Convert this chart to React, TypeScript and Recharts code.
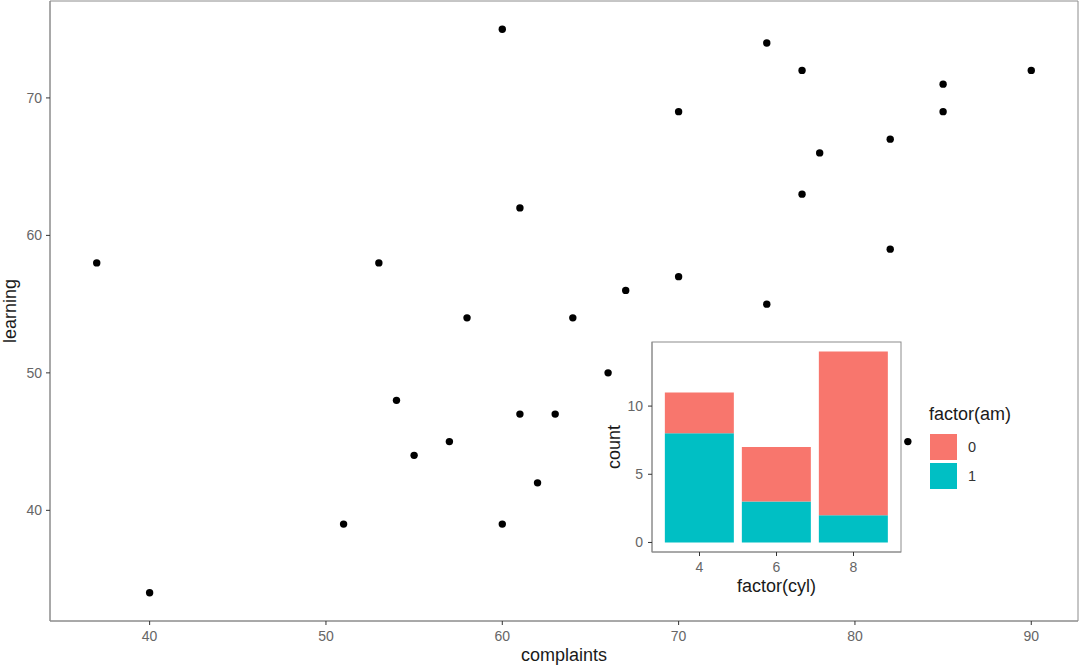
import React from 'react';
import {
  ScatterChart,
  Scatter,
  XAxis,
  YAxis,
  BarChart,
  Bar,
  Legend,
  CartesianGrid,
  ReferenceArea,
} from 'recharts';

// ---- main scatter data (complaints vs learning) ----
const complaints = [51, 64, 70, 63, 78, 55, 67, 75, 82, 61, 53, 60, 62, 83, 77, 90, 85, 60, 70, 58, 40, 61, 66, 37, 54, 77, 75, 57, 85, 82];
const learning = [39, 54, 69, 47, 66, 44, 56, 55, 67, 47, 58, 39, 42, 45, 72, 72, 69, 75, 57, 54, 34, 62, 50, 58, 48, 63, 74, 45, 71, 59];
const xTicks = [40, 50, 60, 70, 80, 90];
const yTicks = [40, 50, 60, 70];

// ---- inset bar data ----
const cylCategories = ['4', '6', '8'];
const am0Counts = [3, 4, 12];
const am1Counts = [8, 3, 2];
const countTicks = [0, 5, 10];
const amLevels = ['0', '1'];
const amColors = ['#F8766D', '#00BFC4'];

const FONT = '"Liberation Sans", Arial, Helvetica, sans-serif';
const BORDER = '#8c8c8c';
const TICK_TEXT = '#666666';
const TITLE = '#1a1a1a';

const expand = (lo: number, hi: number, f = 0.05): [number, number] => {
  const r = hi - lo;
  return [lo - r * f, hi + r * f];
};

const scatterData = complaints.map((c, i) => ({ x: c, y: learning[i] }));
const xDomain = expand(Math.min(...complaints), Math.max(...complaints));
const yDomain = expand(Math.min(...learning), Math.max(...learning));

const barData = cylCategories.map((c, i) => ({ cyl: c, am0: am0Counts[i], am1: am1Counts[i] }));
const maxCount = Math.max(...cylCategories.map((_, i) => am0Counts[i] + am1Counts[i]));
const countDomain = expand(0, maxCount);

const Dot = (p: any) => <circle cx={p.cx} cy={p.cy} r={3.7} fill="#000" />;

const YLabelMain = (props: any) => {
  const vb = props.viewBox || {};
  const cx = vb.x + 6;
  const cy = vb.y + vb.height / 2;
  return (
    <text x={cx} y={cy} transform={`rotate(-90 ${cx} ${cy})`} textAnchor="middle" fontSize={18} fill={TITLE} fontFamily={FONT}>
      learning
    </text>
  );
};

const YLabelInset = (props: any) => {
  const vb = props.viewBox || {};
  const cx = vb.x - 2;
  const cy = vb.y + vb.height / 2;
  return (
    <text x={cx} y={cy} transform={`rotate(-90 ${cx} ${cy})`} textAnchor="middle" fontSize={18} fill={TITLE} fontFamily={FONT}>
      count
    </text>
  );
};

const renderLegend = () => (
  <div style={{ fontFamily: FONT }}>
    <div style={{ fontSize: 18, lineHeight: '20px', color: TITLE, whiteSpace: 'nowrap' }}>factor(am)</div>
    <div style={{ marginTop: 10 }}>
      {amLevels.map((lvl, i) => (
        <div key={lvl} style={{ display: 'flex', alignItems: 'center', height: 26, marginBottom: 3 }}>
          <div style={{ width: 27, height: 26, background: amColors[i], marginLeft: 1 }} />
          <span style={{ marginLeft: 11, fontSize: 14.5, color: '#333' }}>{lvl}</span>
        </div>
      ))}
    </div>
  </div>
);

export default function App() {
  return (
    <div style={{ position: 'absolute', left: 0, top: 0, width: 1080, height: 667, background: '#fff', fontFamily: FONT }}>
      <style>{`.inset-panel .recharts-cartesian-grid-bg { stroke: ${BORDER}; stroke-width: 1px; }`}</style>
      <ScatterChart width={1080} height={667} margin={{ top: 1, right: 2, bottom: 0, left: 10 }}>
        <XAxis
          type="number"
          dataKey="x"
          domain={xDomain}
          allowDataOverflow
          ticks={xTicks}
          height={46}
          tickSize={4}
          tickMargin={6}
          tick={{ fill: TICK_TEXT, fontSize: 14 }}
          tickLine={{ stroke: '#333' }}
          axisLine={{ stroke: BORDER }}
          label={{ value: 'complaints', position: 'insideBottom', offset: 6, fill: TITLE, fontSize: 18 }}
        />
        <YAxis
          type="number"
          dataKey="y"
          domain={yDomain}
          allowDataOverflow
          ticks={yTicks}
          width={40}
          tickSize={4}
          tickMargin={4}
          tick={{ fill: TICK_TEXT, fontSize: 14 }}
          tickLine={{ stroke: '#333' }}
          axisLine={{ stroke: BORDER }}
          label={<YLabelMain />}
        />
        <ReferenceArea
          x1={xDomain[0]}
          x2={xDomain[1]}
          y1={yDomain[0]}
          y2={yDomain[1]}
          fill="none"
          stroke={BORDER}
          strokeWidth={1}
          ifOverflow="visible"
        />
        <Scatter data={scatterData} fill="#000" shape={Dot} isAnimationActive={false} />
      </ScatterChart>

      <div className="inset-panel" style={{ position: 'absolute', left: 600, top: 335 }}>
        <BarChart
          width={430}
          height={270}
          data={barData}
          margin={{ top: 7, right: 129, bottom: 0, left: 22 }}
          barCategoryGap="5%"
        >
          <CartesianGrid horizontal={false} vertical={false} fill="#fff" fillOpacity={1} />
          <XAxis
            dataKey="cyl"
            padding={{ left: 9, right: 9 }}
            height={53}
            tickSize={4}
            tickMargin={6}
            tick={{ fill: TICK_TEXT, fontSize: 14 }}
            tickLine={{ stroke: '#333' }}
            axisLine={{ stroke: BORDER }}
            label={{ value: 'factor(cyl)', position: 'insideBottom', offset: 13, fill: TITLE, fontSize: 18 }}
          />
          <YAxis
            type="number"
            domain={countDomain}
            allowDataOverflow
            ticks={countTicks}
            width={30}
            tickSize={4}
            tickMargin={5}
            tick={{ fill: TICK_TEXT, fontSize: 14 }}
            tickLine={{ stroke: '#333' }}
            axisLine={{ stroke: BORDER }}
            label={<YLabelInset />}
          />
          <Bar dataKey="am1" stackId="s" fill={amColors[1]} isAnimationActive={false} />
          <Bar dataKey="am0" stackId="s" fill={amColors[0]} isAnimationActive={false} />
          <Legend
            layout="vertical"
            align="center"
            verticalAlign="middle"
            wrapperStyle={{ left: 329, top: 69, width: 100 }}
            content={renderLegend}
          />
        </BarChart>
      </div>
    </div>
  );
}
